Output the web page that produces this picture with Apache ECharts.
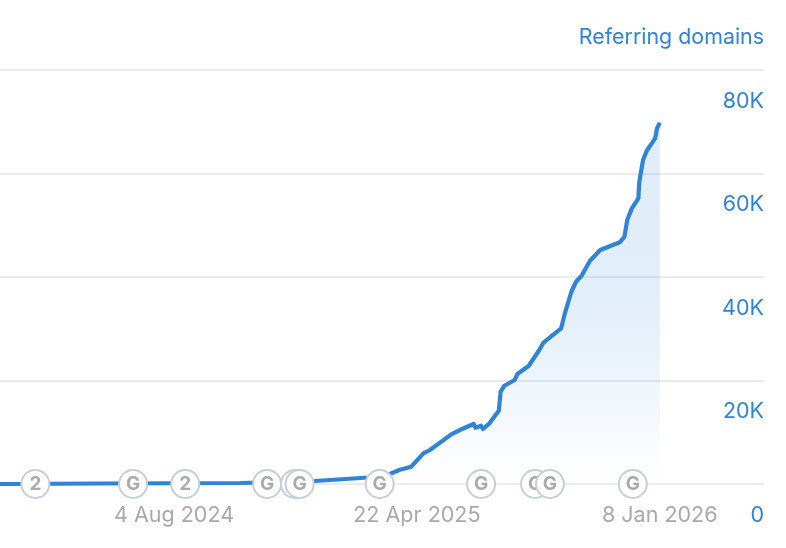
<!DOCTYPE html>
<html>
<head>
<meta charset="utf-8">
<style>html,body{margin:0;padding:0;background:#fff}#c{width:786px;height:548px}</style>
<script src="https://cdn.jsdelivr.net/npm/echarts@6/dist/echarts.min.js"></script>
</head>
<body>
<div id="c"></div>
<script>
const dates = ['2024-01-30','2024-05-16','2024-10-14','2024-11-12','2025-01-02','2025-03-01','2025-03-24','2025-04-03','2025-04-16','2025-04-29','2025-05-06','2025-05-29','2025-06-07','2025-06-22','2025-06-24','2025-06-30','2025-07-02','2025-07-09','2025-07-19','2025-07-21','2025-07-25','2025-08-05','2025-08-08','2025-08-20','2025-08-31','2025-09-05','2025-09-24','2025-09-28','2025-10-05','2025-10-10','2025-10-16','2025-10-25','2025-11-05','2025-11-26','2025-12-01','2025-12-04','2025-12-09','2025-12-16','2025-12-17','2025-12-21','2025-12-25','2026-01-03','2026-01-05','2026-01-08'];
const domains = [0,100,190,330,580,1260,1930,2700,3340,5930,6570,9600,10430,11590,10880,11260,10630,11730,14160,17830,18990,20090,21250,22800,25750,27300,30080,32980,37150,39080,40240,43140,45210,46700,47780,51000,53260,55190,58400,62600,64400,66790,68720,69800];
const backMarkerDates = ['2024-12-12','2025-08-27'];
const backMarkerLabels = ['G','G'];
const markerDates = ['2024-03-08','2024-06-21','2024-08-16','2024-11-12','2024-12-17','2025-03-13','2025-06-30','2025-09-12','2025-12-10'];
const markerLabels = ['2','G','2','G','G','G','G','G','G'];
const xTickDates = ['2024-08-04','2025-04-22','2026-01-08'];
const xTickLabels = ['4 Aug 2024','22 Apr 2025','8 Jan 2026'];
const yTicks = [0,20000,40000,60000,80000];
const yTickLabels = ['0','20K','40K','60K','80K'];
const yName = 'Referring domains';

const ts = s => new Date(s + 'T00:00:00Z').getTime();
const tickTimes = xTickDates.map(ts);
const FONT = 'Inter';
const BLUE = '#2f84d9';
const markerSeries = (ds, labels, z) => ({
  type:'scatter',clip:false,z,
  data:ds.map((d,i)=>({value:[ts(d),0],label:{formatter:labels[i]}})),
  symbol:'circle',symbolSize:28,
  itemStyle:{color:'#fff',borderColor:'#c6ced8',borderWidth:2,opacity:1},
  label:{show:true,position:'inside',color:'#aaaaaa',fontFamily:FONT,fontWeight:700,fontSize:19}
});
const chart = echarts.init(document.getElementById('c'), null, {renderer:'canvas'});
chart.setOption({
  animation:false,
  backgroundColor:'#fff',
  grid:{left:0,right:22,top:70,bottom:64,containLabel:false},
  xAxis:{
    type:'value',
    min:ts('2024-01-30'),max:ts('2026-04-30'),
    axisLine:{show:false},axisTick:{show:false},splitLine:{show:false},
    axisLabel:{
      customValues:tickTimes,
      margin:21,color:'#a9a9a9',fontFamily:FONT,fontSize:21.5,hideOverlap:false,
      formatter:v=>xTickLabels[tickTimes.indexOf(v)]
    }
  },
  yAxis:{
    type:'value',position:'right',min:0,max:80000,interval:20000,
    name:yName,nameLocation:'end',nameGap:22,
    nameTextStyle:{color:BLUE,fontFamily:FONT,fontSize:21.4,align:'right',verticalAlign:'bottom'},
    axisLine:{show:false},axisTick:{show:false},
    splitLine:{show:true,lineStyle:{color:'#e8ecf1',width:2}},
    axisLabel:{
      inside:true,margin:0,align:'right',verticalAlign:'top',lineHeight:63,
      color:BLUE,fontFamily:FONT,fontSize:21.5,
      formatter:v=>yTickLabels[yTicks.indexOf(v)]
    }
  },
  series:[
    {
      type:'line',
      data:dates.map((d,i)=>[ts(d),domains[i]]),
      showSymbol:false,symbol:'none',smooth:false,z:3,
      lineStyle:{color:BLUE,width:4.2,join:'round'},
      areaStyle:{color:new echarts.graphic.LinearGradient(0,0,0,1,[
        {offset:0,color:'rgba(47,132,217,0.21)'},
        {offset:0.5,color:'rgba(47,132,217,0.2)'},
        {offset:1,color:'rgba(47,132,217,0)'}
      ])}
    },
    markerSeries(backMarkerDates, backMarkerLabels, 5),
    markerSeries(markerDates, markerLabels, 6)
  ]
});
</script>
</body>
</html>
